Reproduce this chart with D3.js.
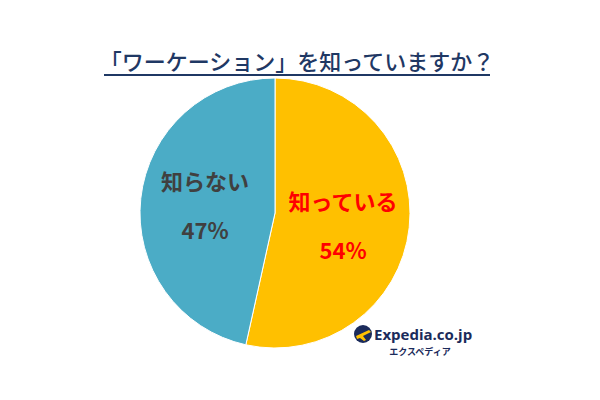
<!DOCTYPE html>
<html><head><meta charset="utf-8">
<script src="https://cdn.jsdelivr.net/npm/d3@7"></script>
<style>body{margin:0;background:#fff}</style>
</head><body>
<svg id="c" width="600" height="400"></svg>
<script>
const title = "「ワーケーション」を知っていますか？";
const categories = ["知っている", "知らない"];
const values = [54, 47];
const colors = ["#FFC000", "#4BACC6"];
const labelColors = ["#FF0000", "#404040"];

const svg = d3.select("#c");
const cx = 275, cy = 213, r = 135;
const font = "'Noto Sans CJK JP', 'Noto Sans', sans-serif";

svg.append("text").attr("x", 297).attr("y", 70)
  .attr("text-anchor", "middle").attr("font-family", font)
  .attr("font-size", 22).attr("font-weight", 500).attr("fill", "#1F3864")
  .text(title);
svg.append("line").attr("x1", 104).attr("x2", 490).attr("y1", 75).attr("y2", 75)
  .attr("stroke", "#1F3864").attr("stroke-width", 2);

const pie = d3.pie().sort(null).value(d => d)(values);
const arc = d3.arc().innerRadius(0).outerRadius(r);
const g = svg.append("g").attr("transform", `translate(${cx},${cy})`);
g.selectAll("path").data(pie).join("path")
  .attr("d", arc).attr("fill", (d, i) => colors[i])
  .attr("stroke", "#fff").attr("stroke-width", 1);

const labelPos = [[68, -3], [-70, -23]];
pie.forEach((d, i) => {
  const [x, y] = labelPos[i];
  g.append("text").attr("x", x).attr("y", y).attr("text-anchor", "middle")
    .attr("font-family", font).attr("font-size", 22).attr("font-weight", 700)
    .attr("fill", labelColors[i]).text(categories[i]);
  g.append("text").attr("x", x).attr("y", y + 49).attr("text-anchor", "middle")
    .attr("font-family", font).attr("font-size", 22).attr("font-weight", 700)
    .attr("fill", labelColors[i]).text(values[i] + "%");
});

// logo
const lg = svg.append("g");
lg.append("circle").attr("cx", 363).attr("cy", 334).attr("r", 9).attr("fill", "#1B2B5B");
lg.append("path").attr("d", "M356,336 L369,330 L371,332 L363,336 L366,340 L364,341 L360,338 L357,339 Z")
  .attr("fill", "#FFC000");
lg.append("text").attr("x", 374).attr("y", 340).attr("font-family", "'Open Sans', sans-serif")
  .attr("font-size", 15).attr("font-weight", 700).attr("fill", "#1B2B5B").text("Expedia.co.jp");
lg.append("text").attr("x", 420).attr("y", 355).attr("text-anchor", "middle").attr("font-family", font)
  .attr("font-size", 9).attr("font-weight", 700).attr("fill", "#1B2B5B").text("エクスペディア");
</script>
</body></html>
